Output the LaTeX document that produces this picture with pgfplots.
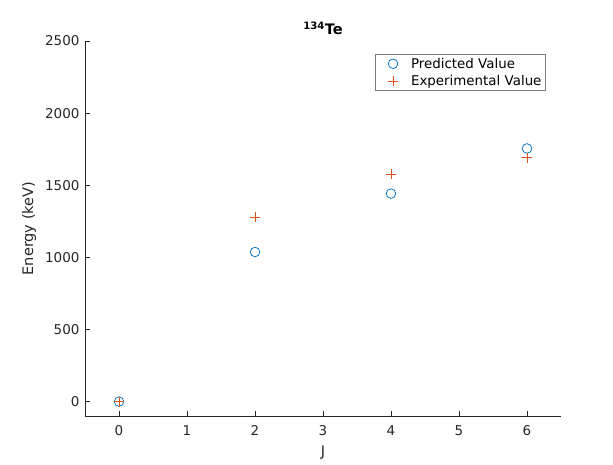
\documentclass[border=0pt]{standalone}
\usepackage{fontspec}
\setmainfont{DejaVu Sans}
\usepackage{pgfplots}
\pgfplotsset{compat=1.18}

\definecolor{mblue}{RGB}{0,114,189}
\definecolor{morange}{RGB}{217,83,25}
\definecolor{axgray}{RGB}{38,38,38}

\begin{document}
\begin{tikzpicture}
\path[use as bounding box] (0,0) rectangle (613pt,464pt);
\begin{axis}[
    at={(85pt,48pt)}, anchor=south west,
    scale only axis,
    width=476pt, height=375pt,
    xmin=-0.5, xmax=6.5,
    ymin=-100, ymax=2500,
    xtick={0,1,2,3,4,5,6},
    ytick={0,500,1000,1500,2000,2500},
    axis lines*=left,
    axis line style={axgray, line width=0.6pt},
    tick align=inside,
    major tick length=5pt,
    tick style={axgray, line width=0.6pt},
    /pgf/number format/assume math mode=true,
    /pgf/number format/1000 sep={},
    ticklabel style={font=\fontsize{13.5}{15}\selectfont, text=axgray},
    xticklabel style={yshift=-6pt},
    yticklabel style={anchor=east, xshift=-2pt},
    xlabel={J},
    ylabel={Energy (keV)},
    label style={font=\fontsize{14.5}{17}\selectfont, text=axgray},
    xlabel style={yshift=-3pt},
    ylabel style={yshift=2pt},
    title={\textbf{\textsuperscript{134}Te}},
    title style={font=\fontsize{14.5}{17}\selectfont, yshift=-3pt},
    legend style={at={(rel axis cs:0.968,0.965)}, anchor=north east,
        draw=axgray!60, line width=0.6pt,
        font=\fontsize{13.4}{15}\selectfont, text=black,
        inner xsep=2pt, inner ysep=1.5pt, row sep=2pt,
        /tikz/every odd column/.style={column sep=2pt}},
    legend cell align=left,
    legend image code/.code={
        \path[draw=none, fill=none] (0pt,-4pt) rectangle (30pt,4pt);
        \draw[#1] plot coordinates {(16pt,0pt)};},
]
\addplot[only marks, mark=o, mark size=4.8pt, draw=mblue,
    mark options={draw=mblue, line width=0.75pt}]
coordinates {(0,0) (2,1037) (4,1442) (6,1755)};
\addlegendentry{Predicted Value}
\addplot[only marks, mark=+, mark size=5pt, draw=morange,
    mark options={draw=morange, line width=0.85pt}]
coordinates {(0,0) (2,1280) (4,1578) (6,1692)};
\addlegendentry{Experimental Value}
\end{axis}
\end{tikzpicture}
\end{document}
